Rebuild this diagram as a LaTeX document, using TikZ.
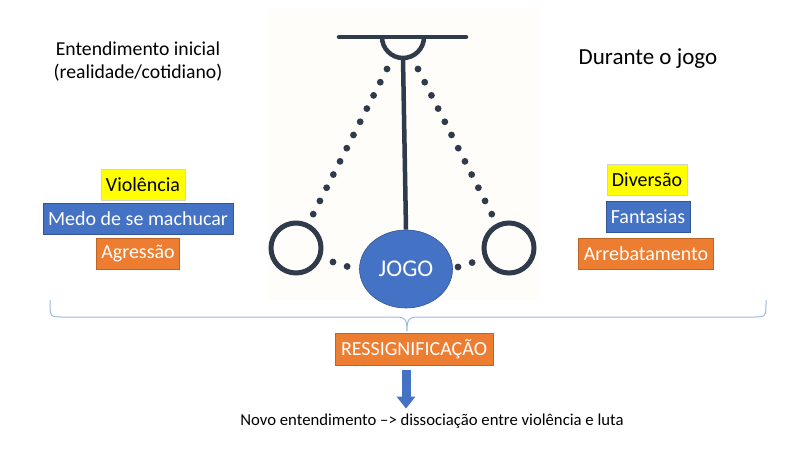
\documentclass[tikz,border=0pt]{standalone}
\usepackage{fontspec}
\setmainfont{Carlito}
\usetikzlibrary{shapes.geometric,arrows.meta}
\definecolor{pend}{HTML}{2F3A4A}
\definecolor{bblue}{HTML}{4472C4}
\definecolor{borange}{HTML}{ED7D31}
\definecolor{byellow}{HTML}{FFFF00}
\definecolor{bracec}{HTML}{9DB9E0}
\definecolor{cream}{HTML}{FFFDF9}
\tikzset{
  lbl/.style={font=\fontsize{19.7}{23}\selectfont, inner sep=0pt, align=center},
  tagbox/.style={font=\fontsize{20}{22}\selectfont, line width=0.6pt, inner xsep=5pt, inner ysep=0pt, minimum height=31pt, anchor=center},
  ybox/.style={tagbox, fill=byellow, text=black, draw=gray!35},
  bbox/.style={tagbox, fill=bblue, text=white, draw=bblue!75!black},
  obox/.style={tagbox, fill=borange, text=white, draw=borange!80!black},
  rod/.style={draw=pend, line width=4.5pt},
  dots/.style={draw=pend, line width=6.8pt, line cap=round, dash pattern=on 0pt off 14.8pt},
  ring/.style={draw=pend, line width=5pt, circle, minimum size=50pt, inner sep=0pt},
}
\begin{document}
\begin{tikzpicture}[x=1pt,y=-1pt]
\useasboundingbox (0,0) rectangle (800,450);
\fill[white] (0,0) rectangle (800,450);
\fill[cream] (268,8) rectangle (540,300);
% pendulum
\draw[rod, line cap=round] (339,37) -- (466,37);
\draw[rod] (382,37) arc[start angle=180, end angle=0, radius=21];
\coordinate (pivot) at (403,58);
\coordinate (pl) at (387,69);
\coordinate (pr) at (418,69);
\node[ring] (lc) at (296,248) {};
\node[ring] (rc) at (509,248) {};
\node[ellipse, fill=bblue, draw=bblue!75!black, line width=0.6pt, minimum width=93pt, minimum height=78pt, inner sep=0pt, text=white, font=\fontsize{24}{28}\selectfont] (jogo) at (406,269) {JOGO};
\draw[rod] (pivot) -- (jogo.north);
\draw[dots, shorten >=33pt] (pl) -- (lc.center);
\draw[dots, shorten >=33pt] (pr) -- (rc.center);
\coordinate (ld1) at (333,262);
\coordinate (ld2) at (349,267);
\coordinate (rd1) at (458,267);
\coordinate (rd2) at (474,262);
\draw[dots] (ld1) -- (ld2);
\draw[dots] (rd1) -- (rd2);
% titles
\node[lbl] (t1) at (138,62) {Entendimento inicial\\(realidade/cotidiano)};
\node[lbl, font=\fontsize{23}{26}\selectfont] (t2) at (648,59) {Durante o jogo};
% left tags
\node[ybox] (vio) at (143,185) {Violência};
\node[bbox] (medo) at (138,219) {Medo de se machucar};
\node[obox] (agr) at (138,254) {Agressão};
% right tags
\node[ybox] (div) at (647,180) {Diversão};
\node[bbox] (fan) at (648,217) {Fantasias};
\node[obox] (arr) at (646,254) {Arrebatamento};
% brace
\coordinate (bl) at (50,300);
\coordinate (br) at (766,300);
\coordinate (bt) at (407,331);
\draw[bracec, line width=1pt] (bl) .. controls (50,317) and (50,317) .. (62,317) -- (396,317)
  .. controls (405,317) and (407,319) .. (bt)
  (bt) .. controls (407,319) and (409,317) .. (418,317) -- (754,317)
  .. controls (766,317) and (766,317) .. (br);
% result
\node[obox, minimum height=32pt, inner xsep=6pt] (res) at (414,349) {RESSIGNIFICAÇÃO};
\node[lbl, font=\fontsize{16.7}{19}\selectfont] (novo) at (432,421) {Novo entendimento –> dissociação entre violência e luta};
\draw[draw=bblue, line width=9pt, -{Triangle[width=18pt,length=12pt]}] ([xshift=-8pt,yshift=-5pt]res.south) -- ([xshift=-26pt,yshift=5pt]novo.north);
\end{tikzpicture}
\end{document}
